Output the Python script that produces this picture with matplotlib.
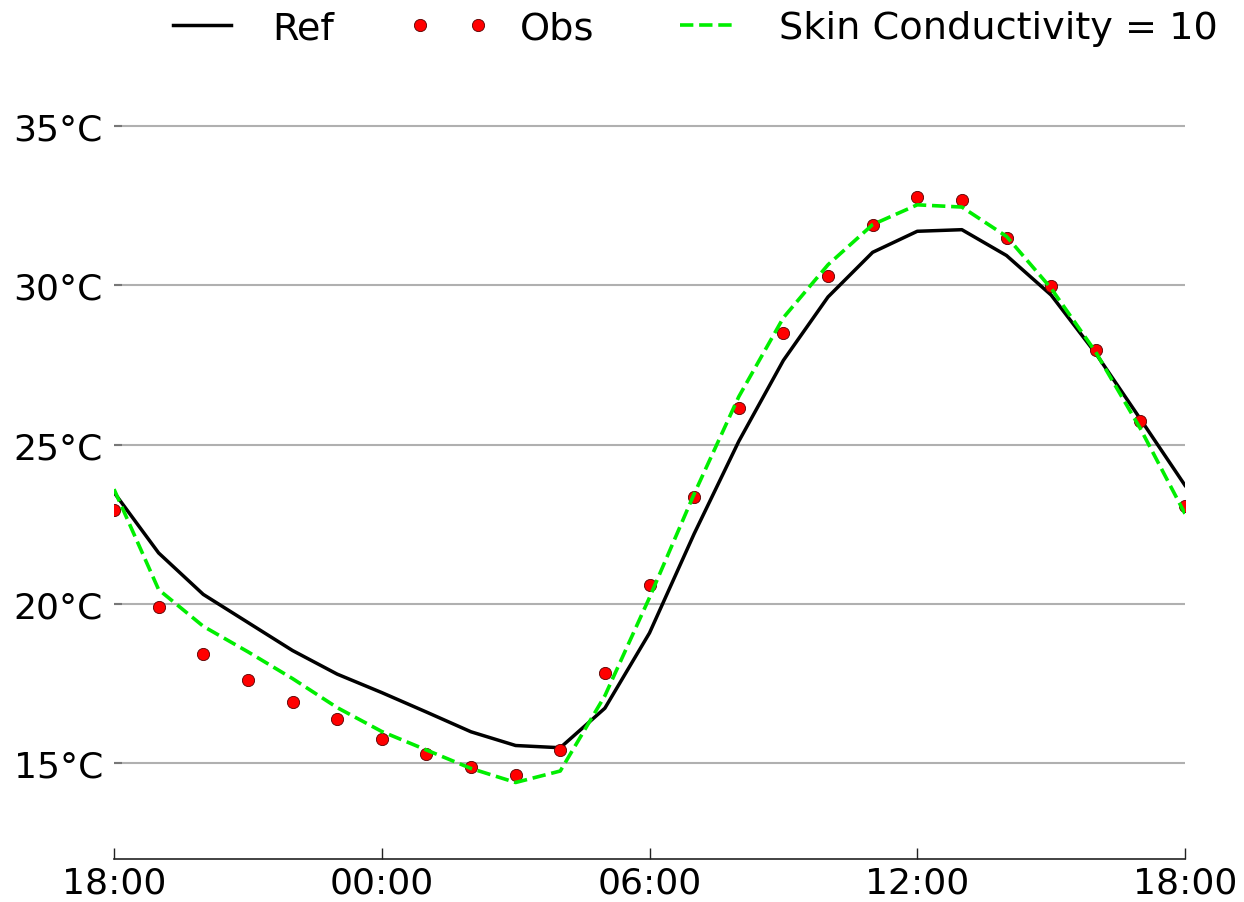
import matplotlib
matplotlib.use("Agg")
import matplotlib.pyplot as plt

# Hourly temperatures (°C) from 18:00 through 18:00 the next day
hours = list(range(25))
ref_temp = [23.5, 21.6, 20.3, 19.42, 18.54, 17.8, 17.22, 16.61, 15.99, 15.56,
            15.49, 16.73, 19.09, 22.2, 25.1, 27.64, 29.63, 31.03, 31.69, 31.74,
            30.93, 29.69, 27.86, 25.8, 23.72]
obs_temp = [22.96, 19.9, 18.42, 17.63, 16.94, 16.38, 15.75, 15.28, 14.9, 14.62,
            15.41, 17.83, 20.6, 23.35, 26.14, 28.49, 30.3, 31.9, 32.77, 32.68,
            31.48, 29.96, 27.96, 25.73, 23.08]
skin10_temp = [23.6, 20.45, 19.3, 18.5, 17.66, 16.75, 16.0, 15.42, 14.84, 14.4,
               14.76, 17.12, 20.2, 23.45, 26.5, 28.98, 30.64, 31.9, 32.52, 32.45,
               31.53, 29.9, 27.9, 25.5, 22.83]

x_ticks = [0, 6, 12, 18, 24]
x_tick_labels = ["18:00", "00:00", "06:00", "12:00", "18:00"]
y_ticks = [15, 20, 25, 30, 35]
y_tick_labels = ["15°C", "20°C", "25°C", "30°C", "35°C"]

plt.rcParams["font.family"] = ["DejaVu Sans"]

fig = plt.figure(figsize=(12.44, 9.03), dpi=100)
ax = fig.add_axes([114 / 1244, 43 / 903, (1185 - 114) / 1244, (860 - 63) / 903])

ax.plot(hours, ref_temp, color="black", lw=2.5, label="Ref", zorder=3)
ax.plot(hours, obs_temp, ls="none", marker="o", ms=8.8, mfc="red",
        mec="#550000", mew=0.6, label="Obs", zorder=4)
ax.plot(hours, skin10_temp, color="#00ee00", lw=2.6, ls="--",
        label="Skin Conductivity = 10", zorder=5)

ax.set_xlim(0, 24)
ax.set_ylim(12, 37)
ax.set_xticks(x_ticks)
ax.set_xticklabels(x_tick_labels, fontsize=26)
ax.set_yticks(y_ticks)
ax.set_yticklabels(y_tick_labels, fontsize=26)

ax.yaxis.grid(True, color="#b0b0b0", lw=1.5)
ax.set_axisbelow(True)
for side in ("top", "right", "left"):
    ax.spines[side].set_visible(False)
ax.spines["bottom"].set_linewidth(1.2)
ax.spines["bottom"].set_color("#222222")
ax.tick_params(axis="x", direction="in", length=8, width=1, pad=5, color="#222222")
ax.tick_params(axis="y", direction="in", length=6, width=1.5, pad=8, color="#777777")

fig.legend(loc="center", bbox_to_anchor=(690 / 1244, 1 - 29 / 903), ncol=3,
           frameon=False, fontsize=27.5, numpoints=2, handlelength=2.1,
           handletextpad=0.8, columnspacing=1.95)

fig.savefig("out.png", dpi=100)
